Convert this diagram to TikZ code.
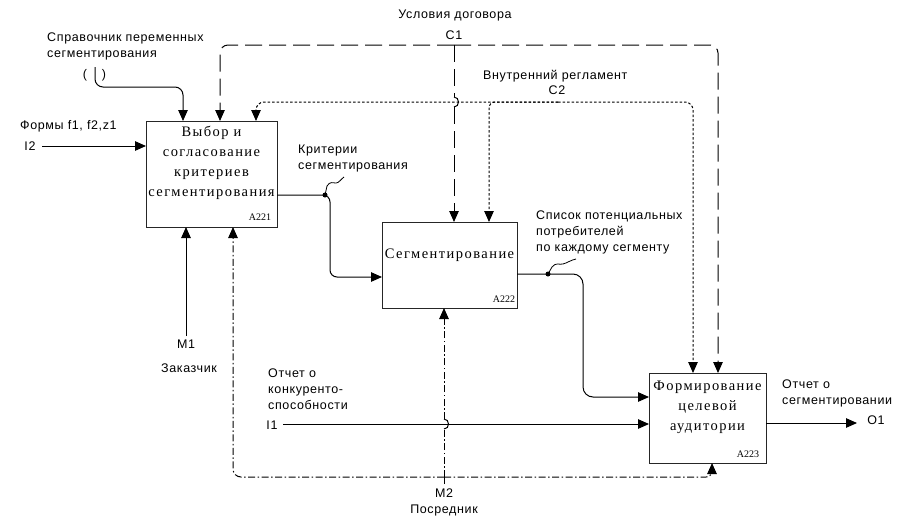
\documentclass[tikz,border=0pt]{standalone}
\usepackage{fontspec}
\setmainfont{Liberation Serif}
\setsansfont{Liberation Sans}
\newfontfamily\lblfont[LetterSpace=5]{Liberation Sans}
\newfontfamily\boxfont[LetterSpace=10]{Liberation Serif}
\newfontfamily\numfont{Liberation Serif}
\usetikzlibrary{arrows.meta,calc}

\tikzset{
  func/.style={draw=black!85, line width=1pt, rectangle, inner sep=0pt, outer sep=0pt},
  boxtext/.style={font=\boxfont\fontsize{14.5}{20}\selectfont, align=center, inner sep=0pt},
  numtext/.style={font=\numfont\fontsize{10}{12}\selectfont, inner sep=0pt},
  lab/.style={font=\lblfont\fontsize{12.5}{16}\selectfont, align=left, inner sep=0pt},
  conn/.style={line width=1pt, draw=black},
  arr/.style={conn, -{Triangle[length=11pt,width=9.5pt]}},
  dashC/.style={dash pattern=on 17pt off 7pt},
  dotC/.style={dash pattern=on 2.5pt off 2pt},
  ddC/.style={dash pattern=on 7pt off 2.5pt on 1.5pt off 2.5pt},
  jdot/.style={circle, fill=black, inner sep=0pt, minimum size=5pt},
}

\begin{document}
\begin{tikzpicture}[x=1pt,y=-1pt]
\useasboundingbox (0,0) rectangle (917,523);

% ---- activity boxes ----
\node[func, minimum width=131pt, minimum height=106pt] (a221) at (211.5,174) {};
\node[func, minimum width=135pt, minimum height=86pt]  (a222) at (449.5,265) {};
\node[func, minimum width=117pt, minimum height=90pt]  (a223) at (707.5,418) {};

\node[boxtext] (t221) at (211.5,163) {Выбор и\\согласование\\критериев\\сегментирования};
\node[boxtext] (t222) at (449.5,255) {Сегментирование};
\node[boxtext] (t223) at (707.5,407) {Формирование\\целевой\\аудитории};

\node[numtext] (n221) at (260,217) {A221};
\node[numtext] (n222) at (504,299) {A222};
\node[numtext] (n223) at (748,454) {A223};

% ---- boundary points ----
\coordinate (spr) at (95,67);
\coordinate (c1) at (454,45);
\coordinate (c2) at (558,102);
\coordinate (i2) at (42,146);
\coordinate (i1) at (283,424);
\coordinate (o1) at (857,423);
\coordinate (m1) at (186,336);
\coordinate (m2) at (444,484);
\coordinate (m2j) at (444,477);

% ---- inputs ----
\draw[arr, rounded corners=8pt] (spr) -- (95,87) -- (183,87) -- (183,87 |- a221.north);
\draw[arr] (i2) -- (a221.west |- i2);
\draw[arr] (i1) -- (a223.west |- i1);

% ---- control C1 (dashed) ----
\draw[arr, dashC, rounded corners=8pt] (c1) -- (220,45) -- (220,45 |- a221.north);
\draw[arr, dashC, rounded corners=8pt] (c1) -- (718,45) -- (718,45 |- a223.north);
\draw[conn, dashC] (c1) -- (454,97);
\draw[conn] (454,97) .. controls (460,97) and (460,107) .. (454,107);
\draw[arr, dashC] (454,107) -- (454,107 |- a222.north);

% ---- control C2 (dotted) ----
\draw[arr, dotC, rounded corners=8pt] (c2) -- (256,102) -- (256,102 |- a221.north);
\draw[arr, dotC, rounded corners=8pt] (c2) -- (693,102) -- (693,102 |- a223.north);
\draw[arr, dotC, rounded corners=6pt] (c2) -- (489,102) -- (489,102 |- a222.north);

% ---- outputs between boxes ----
\draw[arr, rounded corners=7pt] (a221.east |- 0,195) -- (330,195) -- (330,277) -- (a222.west |- 0,277);
\node[jdot] (d1) at (325,195) {};
\draw[conn, line width=0.8pt] (d1.center) -- (327,186) .. controls (330,181) and (333,183) .. (336,183)
      .. controls (339,183) and (341,179) .. (344,177);

\draw[arr, rounded corners=10pt] (a222.east |- 0,274) -- (583,274) -- (583,397) -- (a223.west |- 0,397);
\node[jdot] (d2) at (548,274) {};
\draw[conn, line width=0.8pt] (d2.center) -- (552,267) .. controls (556,262) and (559,265) .. (563,264)
      .. controls (567,263) and (571,260) .. (576,259);

\draw[arr] (a223.east |- o1) -- (o1);

% ---- mechanisms ----
\draw[arr] (m1) -- (m1 |- a221.south);
\draw[conn, ddC] (m2) -- (m2j);
\draw[arr, ddC, rounded corners=8pt] (m2j) -- (233,477) -- (233,477 |- a221.south);
\draw[arr, ddC, rounded corners=6pt] (m2j) -- (712,477) -- (712,477 |- a223.south);
\draw[conn, ddC] (m2j) -- (444,429);
\draw[conn] (444,429) .. controls (450,429) and (450,419) .. (444,419);
\draw[arr, ddC] (444,419) -- (444,419 |- a222.south);

% ---- labels ----
\node[lab, anchor=west] (lsprav) at (47,46.5) {Справочник переменных\\сегментирования};
\node[lab] (tp1) at (85,75) {(};
\node[lab] (tp2) at (104,75) {)};
\node[lab] (lusl) at (455,15) {Условия договора};
\node[lab] (lc1) at (454,35) {C1};
\node[lab, anchor=west] (lvn) at (483,76) {Внутренний регламент};
\node[lab] (lc2) at (557,90) {C2};
\node[lab, anchor=west] (lform) at (20,126) {Формы f1, f2,z1};
\node[lab] (li2) at (30,146) {I2};
\node[lab, anchor=west] (lkrit) at (298,158) {Критерии\\сегментирования};
\node[lab, anchor=west] (lspis) at (536,232) {Список потенциальных\\потребителей\\по каждому сегменту};
\node[lab] (lm1) at (186,344) {M1};
\node[lab] (lzak) at (189,368) {Заказчик};
\node[lab, anchor=west] (lotch) at (268,389) {Отчет о\\конкуренто-\\способности};
\node[lab] (li1) at (272,425) {I1};
\node[lab] (lm2) at (444,493) {M2};
\node[lab] (lpos) at (444,510) {Посредник};
\node[lab, anchor=west] (lotseg) at (782,393.5) {Отчет о\\сегментировании};
\node[lab] (lo1) at (876,420) {O1};
\end{tikzpicture}
\end{document}
